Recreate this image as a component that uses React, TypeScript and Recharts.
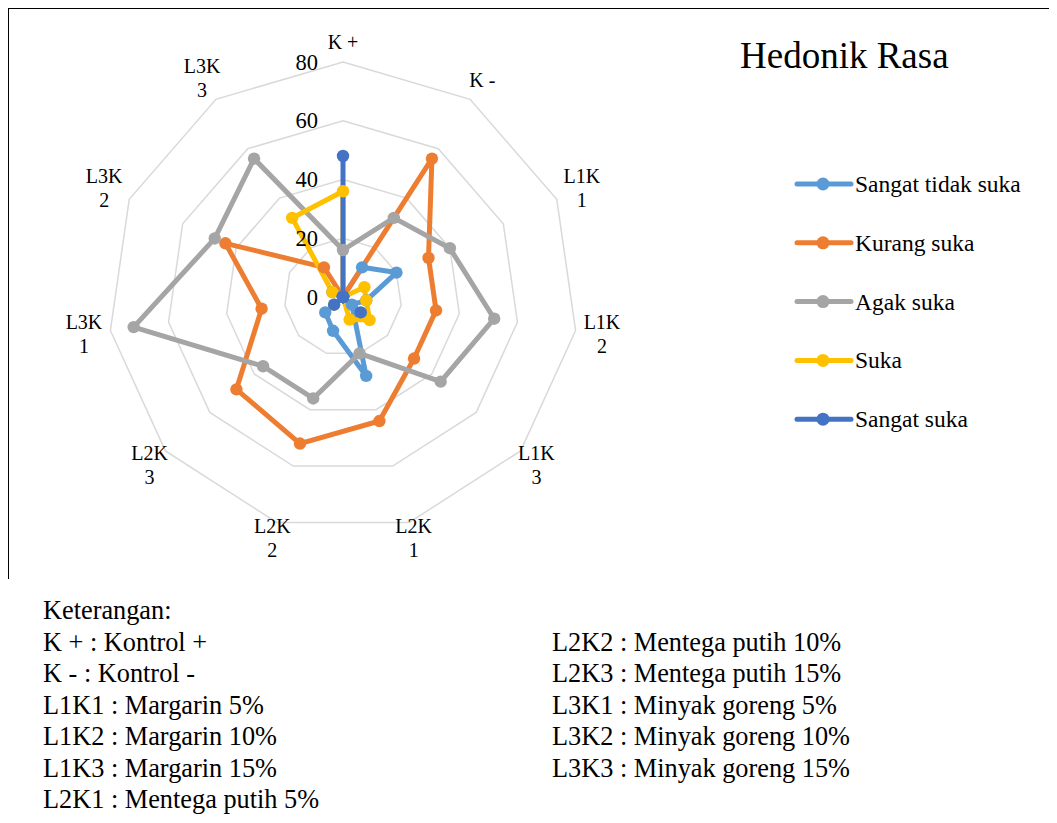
import { RadarChart, Radar, PolarGrid, PolarAngleAxis, PolarRadiusAxis } from 'recharts';

const categories = ['K +', 'K -', 'L1K1', 'L1K2', 'L1K3', 'L2K1', 'L2K2', 'L2K3', 'L3K1', 'L3K2', 'L3K3'];

const sangatTidakSuka = [0, 12, 20, 8, 4, 28, 12, 8, 0, 4, 0];
const kurangSuka = [0, 56, 32, 32, 32, 44, 52, 48, 28, 44, 12];
const agakSuka = [16, 32, 40, 52, 44, 20, 36, 36, 72, 48, 56];
const suka = [36, 0, 8, 8, 12, 8, 0, 4, 0, 4, 32];
const sangatSuka = [48, 0, 0, 0, 8, 0, 0, 4, 0, 0, 0];

const radiusTicks = [0, 20, 40, 60, 80];

const seriesList = [
  { key: 'stk', name: 'Sangat tidak suka', values: sangatTidakSuka, color: '#5B9BD5' },
  { key: 'ks', name: 'Kurang suka', values: kurangSuka, color: '#ED7D31' },
  { key: 'as', name: 'Agak suka', values: agakSuka, color: '#A5A5A5' },
  { key: 's', name: 'Suka', values: suka, color: '#FFC000' },
  { key: 'ss', name: 'Sangat suka', values: sangatSuka, color: '#4472C4' },
];

const notesLeft = [
  'Keterangan:',
  'K + : Kontrol +',
  'K - : Kontrol -',
  'L1K1 : Margarin 5%',
  'L1K2 : Margarin 10%',
  'L1K3 : Margarin 15%',
  'L2K1 : Mentega putih 5%',
];
const notesRight = [
  'L2K2 : Mentega putih 10%',
  'L2K3 : Mentega putih 15%',
  'L3K1 : Minyak goreng 5%',
  'L3K2 : Minyak goreng 10%',
  'L3K3 : Minyak goreng 15%',
];

const FONT = "'Liberation Serif', 'Times New Roman', Times, serif";
const txt = { fontFamily: FONT };
const CX = 335;
const CY = 289;

const chartData = categories.map((name, i) => {
  const row: Record<string, string | number> = { name };
  seriesList.forEach((s) => {
    row[s.key] = s.values[i];
  });
  return row;
});

function AngleTick(props: any) {
  const { x, y, payload } = props;
  const label: string = payload.value;
  const lines = label.includes(' ') ? [label] : [label.slice(0, 3), label.slice(3)];
  const dx = x - CX;
  const dy = y - CY;
  const len = Math.hypot(dx, dy) || 1;
  const s = dx / len;
  const c = -dy / len;
  let r = 258 + 5 * Math.abs(s) - 9 * Math.max(0, -c);
  if (lines.length === 1) r -= 3;
  const tx = CX + r * s;
  const ty = CY - r * c;
  const top = ty - ((lines.length - 1) * 24) / 2;
  return (
    <text x={tx} y={top} textAnchor="middle" style={txt} fontSize={20} fill="#000">
      {lines.map((ln, i) => (
        <tspan key={i} x={tx} y={top + i * 24} dominantBaseline="central">
          {ln}
        </tspan>
      ))}
    </text>
  );
}

function RadiusTick(props: any) {
  const { x, y, payload } = props;
  return (
    <text x={x - 25} y={y} textAnchor="end" dominantBaseline="central" style={txt} fontSize={22.5} fill="#000">
      {payload.value}
    </text>
  );
}

function makeDot(color: string) {
  return (p: any) => {
    const x = p.cx ?? p.x;
    const y = p.cy ?? p.y;
    if (x == null || y == null) return <g key={p.key} />;
    return <circle key={p.key ?? `${x}-${y}`} cx={x} cy={y} r={6.2} fill={color} />;
  };
}

export default function App() {
  return (
    <div style={{ position: 'relative', width: 1049, height: 807, fontFamily: FONT, background: '#fff' }}>
      <div
        style={{
          position: 'absolute',
          left: -1,
          top: -1,
          width: 1050,
          height: 572,
          borderTop: '2px solid #000',
          borderLeft: '2px solid #000',
          boxSizing: 'border-box',
        }}
      />
      <div style={{ position: 'absolute', left: 0, top: 0 }}>
        <RadarChart
          width={1040}
          height={570}
          data={chartData}
          cx={CX}
          cy={CY}
          outerRadius={235}
          startAngle={90}
          endAngle={-270}
          margin={{ top: 0, right: 0, bottom: 0, left: 0 }}
        >
          <PolarGrid gridType="polygon" radialLines={false} stroke="#d9d9d9" strokeWidth={1.5} />
          <PolarAngleAxis dataKey="name" tick={<AngleTick />} axisLine={false} tickLine={false} />
          {seriesList.map((s) => (
            <Radar
              key={s.key}
              name={s.name}
              dataKey={s.key}
              stroke={s.color}
              strokeWidth={5}
              strokeLinejoin="round"
              fill="none"
              fillOpacity={0}
              dot={makeDot(s.color)}
              isAnimationActive={false}
            />
          ))}
          <PolarRadiusAxis
            angle={90}
            domain={[0, 80]}
            ticks={radiusTicks as any}
            tickCount={5}
            axisLine={false}
            tickLine={false}
            tick={<RadiusTick />}
          />
        </RadarChart>
      </div>
      <svg
        width={1049}
        height={807}
        style={{ position: 'absolute', left: 0, top: 0, pointerEvents: 'none' }}
      >
        <text x={732} y={60} style={txt} fontSize={37} fill="#000">
          Hedonik Rasa
        </text>
        {seriesList.map((s, i) => {
          const ly = 176 + i * 58.8;
          return (
            <g key={s.key}>
              <line x1={789} x2={843} y1={ly} y2={ly} stroke={s.color} strokeWidth={5} strokeLinecap="round" />
              <circle cx={815} cy={ly} r={6.5} fill={s.color} />
              <text x={847} y={ly} dominantBaseline="central" style={txt} fontSize={23.5} fill="#000">
                {s.name}
              </text>
            </g>
          );
        })}
        {notesLeft.map((t, i) => (
          <text key={t} x={35} y={611 + i * 31.5} style={txt} fontSize={26.3} fill="#000">
            {t}
          </text>
        ))}
        {notesRight.map((t, i) => (
          <text key={t} x={544} y={642.5 + i * 31.5} style={txt} fontSize={26.3} fill="#000">
            {t}
          </text>
        ))}
      </svg>
    </div>
  );
}
